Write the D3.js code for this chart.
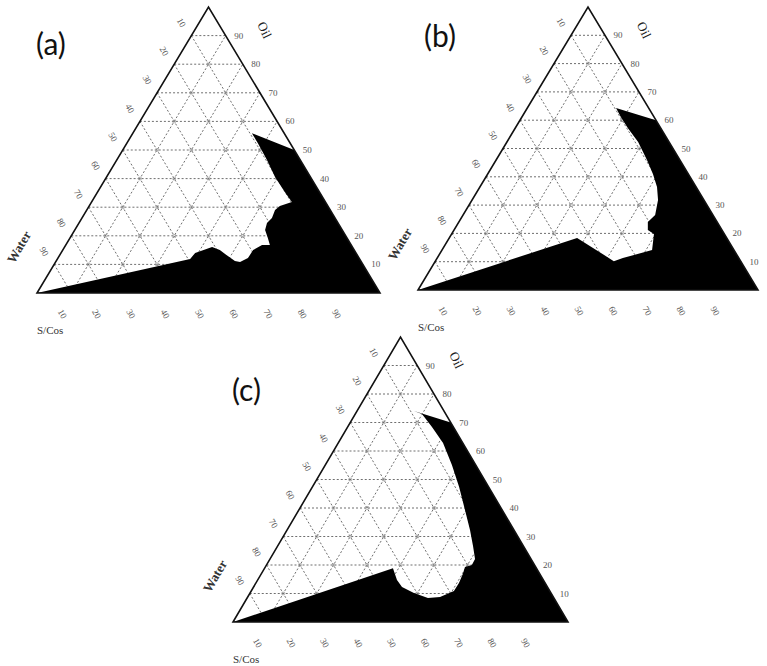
<!DOCTYPE html>
<html>
<head>
<meta charset="utf-8">
<script src="https://cdn.jsdelivr.net/npm/d3@7"></script>
<style>
  body { margin: 0; background: #fff; }
</style>
</head>
<body>
<svg id="chart" width="767" height="666"></svg>
<script>
// tick values, same on the three axes (%)
const ticks = [10, 20, 30, 40, 50, 60, 70, 80, 90];
const panelNames = ["(a)", "(b)", "(c)"];
const axisNames = { top: "Oil", left: "Water", bottom: "S/Cos" };

// outline of the black region, each point is [S/Cos %, Oil %] (water = rest)
const regionA = [
  [0, 0], [38.7, 11.9], [39.1, 14.0], [43.0, 16.1], [45.8, 15.0], [49.2, 12.9],
  [52.1, 11.2], [53.8, 10.8], [55.4, 12.2], [55.5, 15.0], [57.2, 16.8], [59.5, 16.8],
  [57.7, 19.2], [55.5, 22.0], [54.8, 24.5], [55.4, 26.2], [54.9, 29.0], [55.6, 30.4],
  [58.4, 31.8], [54.6, 35.3], [49.1, 40.6], [43.8, 46.5], [38.2, 52.4], [34.7, 55.9],
  [50, 50], [100, 0]
];
const regionB = [
  [0, 0], [37.6, 18.4], [52.5, 10.2], [54.6, 11.3], [61.8, 14.1], [59.5, 19.8],
  [57.0, 21.2], [55.6, 24.0], [56.5, 26.5], [54.7, 31.8], [52.1, 36.4], [48.6, 41.0],
  [44.4, 45.9], [38.6, 52.3], [33.1, 57.2], [29.1, 61.1], [26.1, 64.3],
  [40, 60], [100, 0]
];
const regionC = [
  [0, 0], [38.3, 18.9], [41.6, 14.7], [44.3, 12.3], [48.9, 10.2], [54.0, 8.4],
  [57.4, 8.8], [60.5, 10.9], [60.6, 13.7], [60.2, 16.8], [59.6, 19.3], [61.3, 20.0],
  [61.2, 22.1], [58.3, 26.7], [54.6, 32.3], [49.6, 39.3], [43.8, 47.4], [37.8, 55.1],
  [31.3, 62.8], [25.2, 68.4], [19.9, 73.0], [17.0, 74.0], [30, 70], [100, 0]
];

// where each triangle sits (bottom-left corner, width, height) + panel letter spot
const panels = [
  { name: panelNames[0], region: regionA, x: 37,  y: 293, w: 343, h: 286, lx: 36,  ly: 55 },
  { name: panelNames[1], region: regionB, x: 418, y: 290, w: 340, h: 283, lx: 424, ly: 47 },
  { name: panelNames[2], region: regionC, x: 233, y: 622, w: 335, h: 285, lx: 232, ly: 401 }
];

const svg = d3.select("#chart");
const serif = "'Liberation Serif', 'Times New Roman', serif";

panels.forEach(p => {
  const g = svg.append("g").attr("transform", `translate(${p.x},${p.y})`);
  const sx = d3.scaleLinear().domain([0, 100]).range([0, p.w]);
  const sy = d3.scaleLinear().domain([0, 100]).range([0, -p.h]);
  // s = S/Cos, o = Oil
  const proj = (s, o) => [sx(s + o / 2), sy(o)];

  // dotted grid
  const grid = g.append("g")
    .attr("fill", "none")
    .attr("stroke", "#6f6f6f")
    .attr("stroke-width", 1)
    .attr("stroke-dasharray", "2,2");
  const seg = (a, b) => grid.append("line")
    .attr("x1", a[0]).attr("y1", a[1]).attr("x2", b[0]).attr("y2", b[1]);
  ticks.forEach(k => {
    seg(proj(0, k), proj(100 - k, k));        // oil = k
    seg(proj(k, 0), proj(k, 100 - k));        // s/cos = k
    seg(proj(0, 100 - k), proj(100 - k, 0));  // water = k
  });

  // little marks where the three grid lines cross
  const nodes = [];
  ticks.forEach(s => ticks.forEach(o => { if (s + o < 100) nodes.push([s, o]); }));
  g.append("g").selectAll("path")
    .data(nodes)
    .enter()
    .append("path")
    .attr("transform", d => `translate(${proj(d[0], d[1])})`)
    .attr("d", d3.symbol(d3.symbolSquare, 7))
    .attr("fill", "none")
    .attr("stroke", "#999")
    .attr("stroke-width", 0.6);

  // black region
  const line = d3.line()
    .x(d => proj(d[0], d[1])[0])
    .y(d => proj(d[0], d[1])[1])
    .curve(d3.curveLinearClosed);
  g.append("path")
    .datum(p.region)
    .attr("d", line)
    .attr("fill", "#000");

  // triangle frame
  g.append("path")
    .datum([[0, 0], [100, 0], [0, 100]])
    .attr("d", line)
    .attr("fill", "none")
    .attr("stroke", "#111")
    .attr("stroke-width", 1.6);

  const tickText = g.append("g")
    .attr("font-family", serif)
    .attr("font-size", 9)
    .attr("fill", "#555")
    .attr("text-anchor", "middle")
    .attr("dominant-baseline", "central");

  // oil ticks, right side
  tickText.selectAll(".oil")
    .data(ticks)
    .enter()
    .append("text")
    .attr("x", k => proj(100 - k, k)[0] + 13)
    .attr("y", k => proj(100 - k, k)[1])
    .text(k => k);

  // water ticks, left side
  tickText.selectAll(".water")
    .data(ticks)
    .enter()
    .append("text")
    .attr("transform", k => {
      const pt = proj(0, 100 - k);
      return `translate(${pt[0] - 10},${pt[1] - 13}) rotate(60)`;
    })
    .text(k => k);

  // s/cos ticks, bottom
  tickText.selectAll(".scos")
    .data(ticks)
    .enter()
    .append("text")
    .attr("transform", k => {
      const pt = proj(k, 0);
      return `translate(${pt[0] - 9},${pt[1] + 21}) rotate(60)`;
    })
    .text(k => k);

  // axis titles
  const apex = proj(0, 100);
  g.append("text")
    .attr("transform", `translate(${apex[0] + 56},${apex[1] + 23}) rotate(65)`)
    .attr("text-anchor", "middle")
    .attr("dominant-baseline", "central")
    .attr("font-family", serif)
    .attr("font-size", 13)
    .attr("fill", "#222")
    .text(axisNames.top);

  g.append("text")
    .attr("transform", "translate(-18,-46) rotate(-60)")
    .attr("text-anchor", "middle")
    .attr("dominant-baseline", "central")
    .attr("font-family", serif)
    .attr("font-size", 13)
    .attr("font-weight", "bold")
    .attr("fill", "#333")
    .text(axisNames.left);

  g.append("text")
    .attr("x", 0)
    .attr("y", 41)
    .attr("font-family", serif)
    .attr("font-size", 11)
    .attr("fill", "#333")
    .text(axisNames.bottom);

  // panel letter
  svg.append("text")
    .attr("x", p.lx)
    .attr("y", p.ly)
    .attr("font-family", "Lato, 'Open Sans', sans-serif")
    .attr("font-size", 30)
    .attr("fill", "#111")
    .text(p.name);
});
</script>
</body>
</html>
